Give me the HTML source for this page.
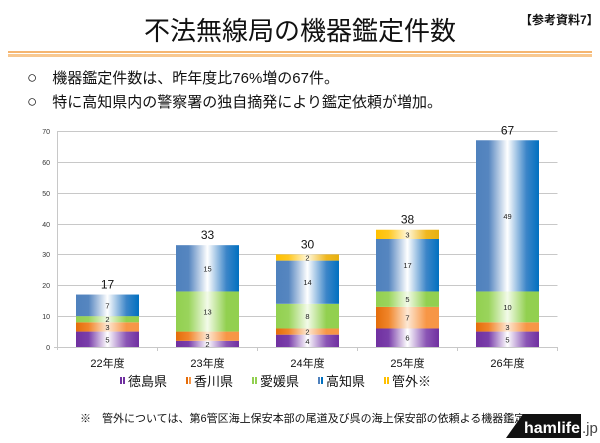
<!DOCTYPE html><html><head><meta charset="utf-8"><style>
body{margin:0;width:600px;height:438px;background:#fff;overflow:hidden;font-family:"Liberation Sans","Noto Sans CJK JP",sans-serif}
svg text{font-family:"Liberation Sans","Noto Sans CJK JP",sans-serif}
</style></head><body>
<svg width="600" height="438" viewBox="0 0 600 438" xmlns="http://www.w3.org/2000/svg">
<defs>
<linearGradient id="gp" x1="0" x2="1"><stop offset="0" stop-color="#7030a0"/><stop offset="0.2" stop-color="#7a3faa"/><stop offset="0.5" stop-color="#ffffff"/><stop offset="0.8" stop-color="#8a55b5"/><stop offset="1" stop-color="#7030a0"/></linearGradient>
<linearGradient id="go" x1="0" x2="1"><stop offset="0" stop-color="#e46c0a"/><stop offset="0.2" stop-color="#f0852a"/><stop offset="0.5" stop-color="#fde8d4"/><stop offset="0.8" stop-color="#f79646"/><stop offset="1" stop-color="#f79646"/></linearGradient>
<linearGradient id="gg" x1="0" x2="1"><stop offset="0" stop-color="#92d050"/><stop offset="0.2" stop-color="#9ad45c"/><stop offset="0.5" stop-color="#f3fbe9"/><stop offset="0.8" stop-color="#92d050"/><stop offset="1" stop-color="#92d050"/></linearGradient>
<linearGradient id="gb" x1="0" x2="1"><stop offset="0" stop-color="#4f81bd"/><stop offset="0.2" stop-color="#5686c0"/><stop offset="0.5" stop-color="#ffffff"/><stop offset="0.8" stop-color="#3c85c8"/><stop offset="1" stop-color="#0070c0"/></linearGradient>
<linearGradient id="gy" x1="0" x2="1"><stop offset="0" stop-color="#ffc000"/><stop offset="0.2" stop-color="#ffc820"/><stop offset="0.5" stop-color="#fff8dc"/><stop offset="0.8" stop-color="#f0b820"/><stop offset="1" stop-color="#e6b010"/></linearGradient>
</defs>
<text x="300" y="40" font-size="26" text-anchor="middle" fill="#111">不法無線局の機器鑑定件数</text>
<text x="520" y="24" font-size="12" font-weight="bold" fill="#111">【参考資料7】</text>
<rect x="8" y="51" width="584" height="2" fill="#f5b570"/>
<rect x="8" y="54" width="584" height="3" fill="#f8c890"/>
<text x="27" y="83" font-size="15" fill="#111"><tspan font-size="17">○</tspan>　機器鑑定件数は、昨年度比76%増の67件。</text>
<text x="27" y="107" font-size="15" fill="#111"><tspan font-size="17">○</tspan>　特に高知県内の警察署の独自摘発により鑑定依頼が増加。</text>
<g stroke="#c8c8c8" stroke-width="1">
<line x1="57.5" y1="131.5" x2="557.5" y2="131.5"/><line x1="57.5" y1="162.5" x2="557.5" y2="162.5"/><line x1="57.5" y1="193.5" x2="557.5" y2="193.5"/><line x1="57.5" y1="224.5" x2="557.5" y2="224.5"/><line x1="57.5" y1="254.5" x2="557.5" y2="254.5"/><line x1="57.5" y1="285.5" x2="557.5" y2="285.5"/><line x1="57.5" y1="316.5" x2="557.5" y2="316.5"/>
<line x1="57.5" y1="131" x2="57.5" y2="350"/><line x1="54" y1="347.5" x2="557.5" y2="347.5"/>
<line x1="157.5" y1="347" x2="157.5" y2="351"/><line x1="257.5" y1="347" x2="257.5" y2="351"/><line x1="357.5" y1="347" x2="357.5" y2="351"/><line x1="457.5" y1="347" x2="457.5" y2="351"/><line x1="557.5" y1="347" x2="557.5" y2="351"/>
</g>
<g font-size="7" fill="#333" text-anchor="end">
<text x="50" y="134">70</text><text x="50" y="165">60</text><text x="50" y="196">50</text><text x="50" y="227">40</text><text x="50" y="257">30</text><text x="50" y="288">20</text><text x="50" y="319">10</text><text x="50" y="350">0</text>
</g>
<g id="bars"></g>
<g font-size="11" fill="#111" text-anchor="middle">
<text x="107.5" y="367">22年度</text><text x="207.5" y="367">23年度</text><text x="307.5" y="367">24年度</text><text x="407.5" y="367">25年度</text><text x="507.5" y="367">26年度</text>
</g>
<g font-size="13" fill="#111">
<rect x="120" y="377" width="2" height="7" fill="#7030a0"/><rect x="123" y="377" width="2" height="7" fill="#7030a0"/><text x="128" y="386">徳島県</text>
<rect x="186" y="377" width="2" height="7" fill="#e46c0a"/><rect x="189" y="377" width="2" height="7" fill="#f79646"/><text x="194" y="386">香川県</text>
<rect x="252" y="377" width="2" height="7" fill="#92d050"/><rect x="255" y="377" width="2" height="7" fill="#92d050"/><text x="260" y="386">愛媛県</text>
<rect x="318" y="377" width="2" height="7" fill="#4f81bd"/><rect x="321" y="377" width="2" height="7" fill="#0070c0"/><text x="326" y="386">高知県</text>
<rect x="384" y="377" width="2" height="7" fill="#ffc000"/><rect x="387" y="377" width="2" height="7" fill="#ffc000"/><text x="392" y="386">管外※</text>
</g>
<text x="80" y="422" font-size="11" fill="#111">※　管外については、第6管区海上保安本部の尾道及び呉の海上保安部の依頼よる機器鑑定</text>
<polygon points="506,438 523,414 581,414 581,438" fill="#111"/>
<text x="524" y="433" font-size="16" font-weight="bold" fill="#fff">hamlife</text>
<text x="582" y="433" font-size="15" fill="#444">.jp</text>
</svg>
<script>
var data=[[5,3,2,7,0],[2,3,13,15,0],[4,2,8,14,2],[6,7,5,17,3],[5,3,10,49,0]];
var fills=["url(#gp)","url(#go)","url(#gg)","url(#gb)","url(#gy)"];
var s=216/70,y0=347,g=document.getElementById("bars"),h="";
data.forEach(function(d,i){var x=76+100*i,c=0;d.forEach(function(v,j){if(!v)return;var yt=y0-(c+v)*s,yb=y0-c*s;h+='<rect x="'+x+'" y="'+yt+'" width="63" height="'+(yb-yt)+'" fill="'+fills[j]+'"/>';h+='<text x="'+(x+31.5)+'" y="'+((yt+yb)/2+3)+'" font-size="7.5" text-anchor="middle" fill="#222">'+v+'</text>';c+=v;});
h+='<text x="'+(x+31.5)+'" y="'+(y0-c*s-6)+'" font-size="12" text-anchor="middle" fill="#111">'+c+'</text>';});
g.innerHTML=h;
</script>
</body></html>
